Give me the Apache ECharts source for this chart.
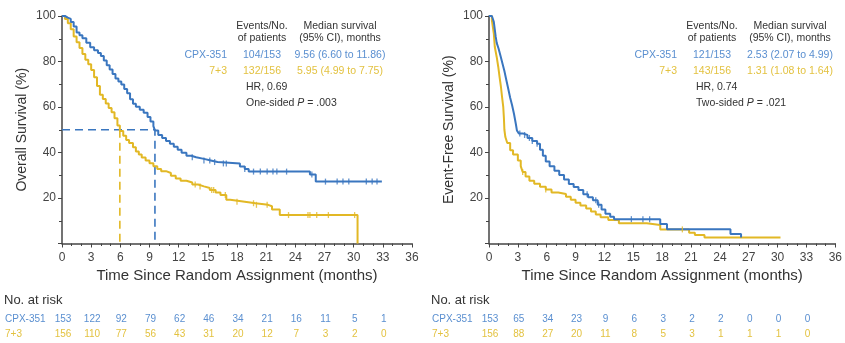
<!DOCTYPE html>
<html>
<head>
<meta charset="utf-8">
<script src="https://cdn.jsdelivr.net/npm/echarts@6/dist/echarts.min.js"></script>
<style>
  html, body { margin: 0; padding: 0; background: #fff; }
  #chart { width: 845px; height: 343px; }
</style>
</head>
<body>
<div id="chart"></div>
<script>
// 总生存 (OS) 曲线, 时间(月) / 生存率(%)
const osCpxT = [0,0.3,0.6,0.9,1.2,1.5,1.8,2.1,2.5,2.9,3.3,3.7,4.0,4.3,4.6,4.9,5.2,5.5,5.8,6.1,6.4,6.7,7.0,7.3,7.6,8.0,8.4,8.8,9.1,9.4,9.56,9.9,10.3,10.7,11.1,11.5,11.9,12.3,12.8,13.3,13.8,14.6,15.3,16.0,18.3,18.8,19.2,25.5,26.1,32.9];
const osCpxS = [100,99.3,98.7,97.4,95.4,92.8,91.5,90.2,88.2,86.3,85.0,83.7,82.4,80.4,78.4,76.5,74.5,72.5,71.2,69.9,67.9,66.0,63.4,61.4,60.1,58.8,57.5,55.6,53.6,51.6,49.7,47.7,46.4,45.1,43.8,42.5,41.2,39.9,38.6,37.9,37.2,36.5,35.8,35.2,33.9,32.7,31.6,30.3,27.2,27.2];
const osStdT = [0,0.3,0.6,0.9,1.2,1.5,1.8,2.1,2.4,2.7,3.0,3.3,3.6,3.9,4.2,4.5,4.8,5.1,5.4,5.7,5.95,6.3,6.6,6.9,7.3,7.6,7.9,8.2,8.6,9.0,9.4,9.8,10.2,10.7,11.2,11.7,12.2,12.8,13.4,14.0,14.6,15.2,15.8,16.3,16.9,17.3,18.8,19.9,21.2,21.6,22.4,30.4];
const osStdS = [100,98.7,96.8,94.2,91.0,88.5,85.9,83.3,80.8,78.8,76.3,73.1,69.2,65.4,63.5,61.5,59.6,57.7,55.1,51.9,49.4,47.4,45.5,44.2,42.3,40.4,39.1,37.8,36.5,35.3,34.0,32.7,31.8,31.0,29.8,28.6,27.6,26.8,25.9,25.1,24.4,23.5,22.4,21.3,19.2,18.4,17.7,17.0,16.4,14.9,12.5,0];
const osCpxCens = [13.4,14.6,15.2,15.7,16.6,16.9,18.8,19.7,20.4,21.1,21.7,22.1,23.1,25.7,27.1,28.3,28.9,29.5,31.3,31.9,32.4];
const osStdCens = [13.7,14.2,15.4,15.6,16.8,18.0,19.7,20.0,21.1,23.3,25.3,25.5,26.2,27.4,30.1];

// 无事件生存 (EFS) 曲线
const efsCpxT = [0,0.3,0.5,0.6,0.7,0.8,1.0,1.2,1.4,1.6,1.8,2.0,2.2,2.4,2.6,2.8,2.9,3.1,3.5,4.0,4.5,5.0,5.3,5.6,5.9,6.3,6.8,7.3,7.8,8.3,8.8,9.3,9.8,10.3,10.8,11.3,11.7,12.1,12.6,13.0,17.8,18.5,25.1,26.2];
const efsCpxS = [100,99.3,97.4,94.1,90.8,88.2,85.6,82.4,79.1,75.8,71.9,68.0,64.1,60.8,56.9,52.3,49.7,48.4,47.7,46.4,45.1,43.8,41.2,38.6,36.0,34.0,32.0,30.1,28.1,26.1,24.8,23.5,21.6,20.3,19.0,17.0,15.0,13.1,11.8,10.7,8.6,6.3,4.2,2.6];
const efsStdT = [0,0.3,0.5,0.6,0.8,0.96,1.1,1.24,1.35,1.48,1.55,1.6,1.7,1.9,2.2,2.5,3.0,3.3,3.5,3.8,4.2,4.7,5.3,5.9,6.5,7.2,8.0,8.5,9.0,9.5,10.1,10.6,11.1,11.6,12.4,13.5,16.4,17.8,20.8,21.4,22.4,30.3];
const efsStdS = [100,98.1,92.3,86.5,82.0,77.7,73.1,68.9,64.7,60.1,55.1,50.0,46.8,44.2,41.0,39.1,36.5,34.0,31.4,29.5,27.6,26.3,25.0,23.7,22.4,21.8,20.5,19.2,17.9,16.7,15.4,14.1,12.8,11.5,10.3,8.9,8.1,6.2,4.7,3.7,2.6,2.6];
const efsCpxCens = [3.2,3.7,4.2,4.5,5.0,10.2,11.1,11.4,14.8,16.0,16.7];
const efsStdCens = [3.5,5.9,20.1];

// 中位生存
const osMedian = [9.56, 5.95];

// 风险人数表
const riskTimes = [0,3,6,9,12,15,18,21,24,27,30,33];
const osRiskCpx = [153,122,92,79,62,46,34,21,16,11,5,1];
const osRiskStd = [156,110,77,56,43,31,20,12,7,3,2,0];
const efsRiskCpx = [153,65,34,23,9,6,3,2,2,0,0,0];
const efsRiskStd = [156,88,27,20,11,8,5,3,1,1,1,0];

const BLUE = '#3a76bf', YELLOW = '#e2b825';
const BLUE_TXT = '#5a8fd0', YELLOW_TXT = '#e3c240';
const FONT = 'Liberation Sans, Arial, sans-serif';

function pairs(t, s) { return t.map((x, i) => [x, s[i]]); }
function survAt(t, s, x) {
  let v = s[0];
  for (let i = 0; i < t.length; i++) if (t[i] <= x) v = s[i];
  return v;
}
function cens(t, s, c) { return c.map(x => [x, survAt(t, s, x)]); }

function xAxisCfg(idx) {
  return {
    gridIndex: idx, type: 'value', min: 0, max: 36, interval: 3,
    name: 'Time Since Random Assignment (months)', nameLocation: 'middle', nameGap: 23,
    nameTextStyle: { fontFamily: FONT, fontSize: 15, color: '#333' },
    axisLine: { lineStyle: { color: '#444', width: 1.5 } },
    axisTick: { length: 4, lineStyle: { color: '#444' } },
    minorTick: { show: true, splitNumber: 3, length: 2.5, lineStyle: { color: '#444' } },
    axisLabel: { fontFamily: FONT, fontSize: 12, color: '#444', margin: 8 },
    splitLine: { show: false }
  };
}
function yAxisCfg(idx, name) {
  return {
    gridIndex: idx, type: 'value', min: 0, max: 100, interval: 20,
    name: name, nameLocation: 'middle', nameGap: 33,
    nameTextStyle: { fontFamily: FONT, fontSize: 14, color: '#333' },
    axisLine: { show: true, lineStyle: { color: '#444', width: 1.5 } },
    axisTick: { show: true, length: 4, lineStyle: { color: '#444' } },
    minorTick: { show: true, splitNumber: 2, length: 3, lineStyle: { color: '#444' } },
    axisLabel: { fontFamily: FONT, fontSize: 12, color: '#444', margin: 6,
      formatter: v => v === 0 ? '' : v },
    splitLine: { show: false }
  };
}
function kmLine(x, y, data, color) {
  return { type: 'line', xAxisIndex: x, yAxisIndex: y, data: data, step: 'end',
    showSymbol: false, symbol: 'none', lineStyle: { color: color, width: 2 }, z: 3, silent: true };
}
function censMarks(x, y, data, color) {
  return { type: 'scatter', xAxisIndex: x, yAxisIndex: y, data: data, symbol: 'rect',
    symbolSize: [1.3, 6], itemStyle: { color: color }, z: 4, silent: true };
}
function dashLine(data, color) {
  return { type: 'line', xAxisIndex: 0, yAxisIndex: 0, data: data, showSymbol: false, symbol: 'none',
    lineStyle: { color: color, width: 1.6, type: [8, 5] }, z: 2, silent: true };
}

function legendText(x0, rows, hr, pText) {
  const t = (x, y, text, color, align) => ({
    type: 'text', x: x, y: y,
    style: { text: text, fill: color || '#333', font: '10.5px ' + FONT, textAlign: align || 'left', textVerticalAlign: 'middle' }
  });
  return [
    t(x0 + 36, 26, 'Events/No.', '#333', 'center'),
    t(x0 + 36, 38, 'of patients', '#333', 'center'),
    t(x0 + 114, 26, 'Median survival', '#333', 'center'),
    t(x0 + 114, 38, '(95% CI), months', '#333', 'center'),
    t(x0 + 1, 55, 'CPX-351', BLUE_TXT, 'right'),
    t(x0 + 36, 55, rows[0][0], BLUE_TXT, 'center'),
    t(x0 + 114, 55, rows[0][1], BLUE_TXT, 'center'),
    t(x0 + 1, 71, '7+3', YELLOW_TXT, 'right'),
    t(x0 + 36, 71, rows[1][0], YELLOW_TXT, 'center'),
    t(x0 + 114, 71, rows[1][1], YELLOW_TXT, 'center'),
    t(x0 + 20, 87, hr, '#333', 'left'),
    { type: 'text', x: x0 + 20, y: 103, style: { rich: { n: { font: '10.5px ' + FONT, fill: '#333' }, i: { font: 'italic 10.5px ' + FONT, fill: '#333' } },
      text: pText, textVerticalAlign: 'middle' } }
  ];
}

const chart = echarts.init(document.getElementById('chart'));
chart.setOption({
  animation: false,
  backgroundColor: '#fff',
  grid: [
    { left: 62, top: 16, width: 350, height: 227.5 },
    { left: 489, top: 16, width: 350, height: 227.5 }
  ],
  xAxis: [xAxisCfg(0), xAxisCfg(1)],
  yAxis: [yAxisCfg(0, 'Overall Survival (%)'), yAxisCfg(1, 'Event-Free Survival (%)')],
  series: [
    dashLine([[0, 50], [osMedian[0], 50], [osMedian[0], 0]], BLUE),
    dashLine([[osMedian[1], 50], [osMedian[1], 0]], YELLOW),
    kmLine(0, 0, pairs(osStdT, osStdS), YELLOW),
    kmLine(0, 0, pairs(osCpxT, osCpxS), BLUE),
    censMarks(0, 0, cens(osStdT, osStdS, osStdCens), YELLOW),
    censMarks(0, 0, cens(osCpxT, osCpxS, osCpxCens), BLUE),
    kmLine(1, 1, pairs(efsStdT, efsStdS), YELLOW),
    kmLine(1, 1, pairs(efsCpxT, efsCpxS), BLUE),
    censMarks(1, 1, cens(efsStdT, efsStdS, efsStdCens), YELLOW),
    censMarks(1, 1, cens(efsCpxT, efsCpxS, efsCpxCens), BLUE)
  ]
});

// 图例文字和风险人数表
let g = [];
g = g.concat(legendText(226, [['104/153', '9.56 (6.60 to 11.86)'], ['132/156', '5.95 (4.99 to 7.75)']],
  'HR, 0.69', '{n|One-sided }{i|P}{n| = .003}'));
g = g.concat(legendText(676, [['121/153', '2.53 (2.07 to 4.99)'], ['143/156', '1.31 (1.08 to 1.64)']],
  'HR, 0.74', '{n|Two-sided }{i|P}{n| = .021}'));

function riskTable(idx, xLabel, cpx, std) {
  const out = [];
  out.push({ type: 'text', x: xLabel, y: 300, style: { text: 'No. at risk', fill: '#333', font: '13px ' + FONT, textVerticalAlign: 'middle' } });
  out.push({ type: 'text', x: xLabel + 1, y: 319, style: { text: 'CPX-351', fill: BLUE_TXT, font: '10px ' + FONT, textVerticalAlign: 'middle' } });
  out.push({ type: 'text', x: xLabel + 1, y: 334, style: { text: '7+3', fill: YELLOW_TXT, font: '10px ' + FONT, textVerticalAlign: 'middle' } });
  riskTimes.forEach((t, i) => {
    const px = chart.convertToPixel({ xAxisIndex: idx }, t);
    out.push({ type: 'text', x: px + 1, y: 319, style: { text: String(cpx[i]), fill: BLUE_TXT, font: '10px ' + FONT, textAlign: 'center', textVerticalAlign: 'middle' } });
    out.push({ type: 'text', x: px + 1, y: 334, style: { text: String(std[i]), fill: YELLOW_TXT, font: '10px ' + FONT, textAlign: 'center', textVerticalAlign: 'middle' } });
  });
  return out;
}
g = g.concat(riskTable(0, 4, osRiskCpx, osRiskStd));
g = g.concat(riskTable(1, 431, efsRiskCpx, efsRiskStd));

chart.setOption({ graphic: g });
</script>
</body>
</html>
